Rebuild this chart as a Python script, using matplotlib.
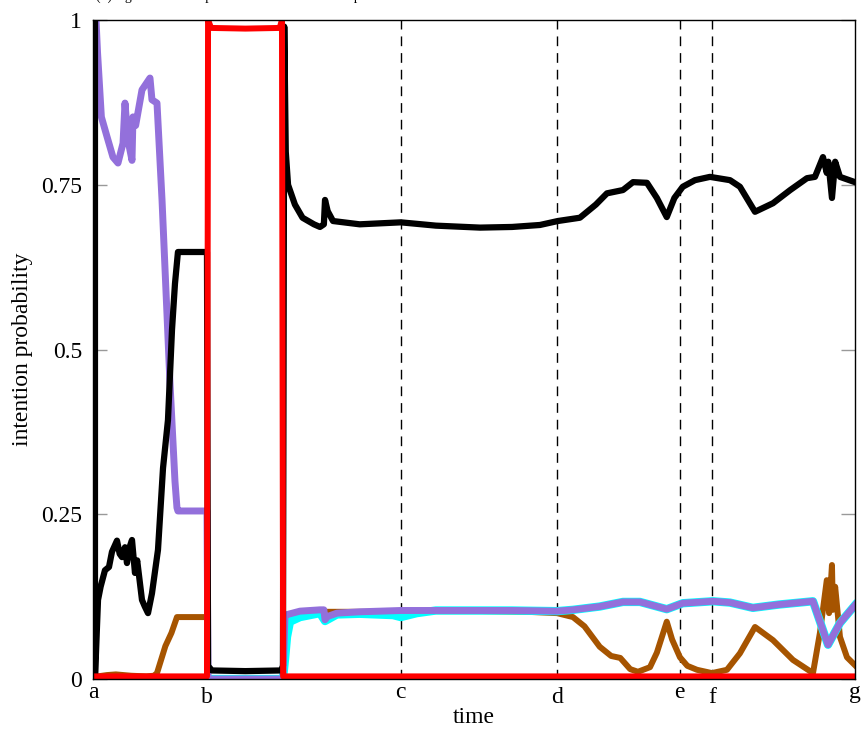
import matplotlib
matplotlib.use('Agg')
import matplotlib.pyplot as plt
from matplotlib.transforms import offset_copy

# event markers on the time axis
event_labels = ['a', 'b', 'c', 'd', 'e', 'f', 'g']
event_times = [0.0, 15.0, 40.4, 60.9, 77.0, 81.2, 100.0]

# black intention
black_t = [0.26, 0.26, 0.66, 1.0, 1.57, 2.1, 2.49, 3.15, 3.5, 3.81, 4.2, 4.46, 4.8, 5.12,
           5.51, 5.8, 6.43, 6.8, 7.22, 7.74, 8.53, 9.19, 9.84, 10.37, 10.76, 11.15, 14.96,
           15.1, 15.6, 20, 24.7, 24.93, 25.1, 25.3, 25.6, 26.5, 27.5, 29.0, 29.79, 30.3, 30.45,
           30.8, 31.5, 35, 40.4, 45, 50.8, 55, 58.66, 61, 63.9, 66, 67.45, 69.55, 70.87,
           72.7, 74, 75.3, 76.3, 77.4, 79, 80.97, 83.6, 84.9, 86.88, 89.24, 91.5, 93.7,
           94.75, 95.8, 96.3, 96.5, 96.98, 97.4, 98.03, 100]
black_y = [1.0, 0.0, 0.12, 0.14, 0.165, 0.17, 0.193, 0.21, 0.19, 0.185, 0.2, 0.176, 0.2,
           0.211, 0.161, 0.18, 0.12, 0.11, 0.1, 0.13, 0.196, 0.32, 0.393, 0.53, 0.6, 0.648,
           0.648, 0.02, 0.013, 0.012, 0.013, 0.02, 0.99, 0.80, 0.75, 0.72, 0.70, 0.69, 0.686,
           0.69, 0.727, 0.71, 0.695, 0.69, 0.693, 0.688, 0.685, 0.686, 0.689, 0.695, 0.70,
           0.72, 0.737, 0.742, 0.754, 0.753, 0.73, 0.701, 0.73, 0.747, 0.757, 0.762, 0.757,
           0.747, 0.709, 0.722, 0.742, 0.76, 0.762, 0.792, 0.768, 0.785, 0.73, 0.785, 0.762,
           0.754]

# red intention
red_t = [0, 14.96, 15.1, 15.5, 20, 24.5, 24.8, 24.95, 100]
red_y = [0.004, 0.004, 1.0, 0.988, 0.987, 0.988, 1.0, 0.004, 0.004]

# purple intention
purple_t = [0.4, 0.6, 1.1, 1.84, 2.62, 3.28, 3.94, 4.2, 4.59, 5.12, 5.25, 5.6, 6.43, 7.48, 7.74,
            8.4, 9.06, 10.1, 10.76, 11.02, 11.15, 14.96, 15.1, 24.93, 25.2, 27.17, 29.79,
            30.3, 30.45, 30.8, 32.02, 35, 40.4, 45, 50.8, 55, 60.9, 62.99, 66.5, 69.55,
            71.78, 75.3, 77.4, 81.36, 83.6, 86.6, 90, 94.49, 96.46, 98.03, 100]
purple_y = [1.0, 0.95, 0.853, 0.823, 0.792, 0.783, 0.813, 0.874, 0.818, 0.787, 0.853, 0.84,
            0.894, 0.912, 0.879, 0.874, 0.727, 0.45, 0.3, 0.26, 0.255, 0.255, 0.0, 0.0,
            0.097, 0.103, 0.105, 0.105, 0.09, 0.095, 0.1, 0.102, 0.104, 0.104, 0.104, 0.104,
            0.103, 0.105, 0.11, 0.117, 0.117, 0.106, 0.115, 0.118, 0.116, 0.108, 0.113,
            0.118, 0.052, 0.085, 0.112]

# cyan intention
cyan_t = [0, 24.93, 25.2, 25.46, 25.85, 27.17, 29.79, 30.45, 32.02, 35, 39.37, 40.4, 42.5,
          45, 50.8, 55, 60.9, 62.99, 66.5, 69.55, 71.78, 75.3, 77.4, 81.36, 83.6, 86.6, 90,
          94.49, 96.46, 98.03, 100]
cyan_y = [0, 0, 0.03, 0.064, 0.087, 0.094, 0.1, 0.088, 0.098, 0.099, 0.097, 0.094, 0.1,
          0.104, 0.104, 0.104, 0.103, 0.105, 0.11, 0.117, 0.117, 0.106, 0.115, 0.118, 0.116,
          0.108, 0.113, 0.118, 0.052, 0.085, 0.112]

# brown intention
brown_t = [0, 1.84, 3, 5, 7, 8, 8.4, 9.5, 10.3, 11.02, 14.96, 15.1, 24.93, 25.2, 27.17, 30,
           35, 40.4, 45, 50.8, 57, 60.9, 62.99, 64.5, 66.5, 68, 69.2, 70.5, 71.52, 73.1, 74,
           75.3, 76, 77.03, 78, 79.27, 81.23, 83.2, 84.9, 86.88, 89.24, 91.86, 94.49, 95.4,
           96.3, 96.6, 96.98, 97.1, 97.4, 98.03, 98.95, 100]
brown_y = [0.003, 0.006, 0.007, 0.005, 0.004, 0.005, 0.009, 0.05, 0.07, 0.094, 0.094, 0.0, 0.0,
           0.097, 0.1, 0.102, 0.102, 0.102, 0.103, 0.103, 0.102, 0.1, 0.094, 0.08, 0.049,
           0.035, 0.032, 0.015, 0.011, 0.018, 0.04, 0.087, 0.06, 0.033, 0.02, 0.014, 0.009,
           0.014, 0.039, 0.079, 0.059, 0.029, 0.009, 0.07, 0.15, 0.1, 0.173, 0.105, 0.14,
           0.064, 0.033, 0.021]

plt.rcParams['font.family'] = ['Liberation Serif', 'DejaVu Serif']

fig = plt.figure(figsize=(8.61, 7.31), dpi=100)
ax = fig.add_axes([0.108, 0.0711, 0.885, 0.9015])

# caption of the subfigure, mostly cut off at the top edge
fig.text(0.111, 1.0, '(b) Agent intention probabilities over time for pedestrian',
         fontsize=10, va='baseline', ha='left')

# event lines
for t in event_times[1:-1]:
    ax.axvline(t, color='black', linewidth=1.0, linestyle=(0, (7, 5)), zorder=1)

ax.plot(brown_t, brown_y, color='#a65400', linewidth=4.3, zorder=2)
ax.plot(cyan_t, cyan_y, color='#00ffff', linewidth=6.0, zorder=3)
ax.plot(purple_t, purple_y, color='#9370db', linewidth=5.0, zorder=4)
ax.plot(black_t, black_y, color='black', linewidth=4.5, zorder=5)
ax.plot(red_t, red_y, color='#ff0000', linewidth=4.3, zorder=6)

ax.set_xlim(0, 100)
ax.set_ylim(0, 1)
ax.set_xticks([])
ax.set_yticks([0, 0.25, 0.5, 0.75, 1])
ax.set_yticklabels(['0', '0.25', '0.5', '0.75', '1'])
ax.tick_params(axis='y', direction='in', length=10, width=1, color='#999999',
               left=True, right=True, pad=8, labelsize=17)

# event letters, vertically centred like the original (tall letters sit lower)
for t, lab in zip(event_times, event_labels):
    drop = 17.5 if lab in ('b', 'd', 'f') else 13.5
    tr = offset_copy(ax.get_xaxis_transform(), fig=fig, y=-drop, units='points')
    ax.text(t, 0, lab, transform=tr, ha='center', va='baseline', fontsize=17)

for s in ax.spines.values():
    s.set_linewidth(1.0)
    s.set_zorder(7)

ax.set_xlabel('time', fontsize=17)
ax.xaxis.set_label_coords(0.5, -0.043)
ax.set_ylabel('intention probability', fontsize=17, labelpad=6)

fig.savefig('out.png', dpi=100)
